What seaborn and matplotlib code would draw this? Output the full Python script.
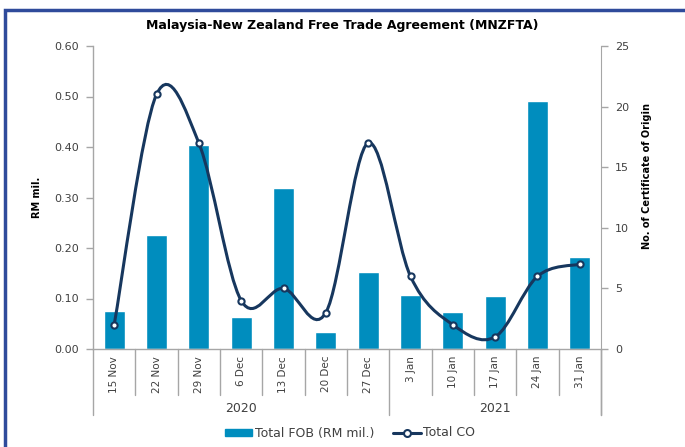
import matplotlib
matplotlib.use("Agg")
import matplotlib.pyplot as plt
import seaborn as sns
import pandas as pd
from matplotlib.path import Path
from matplotlib.patches import PathPatch, Rectangle
from matplotlib.lines import Line2D

# weekly data
weeks = ["15 Nov", "22 Nov", "29 Nov", "6 Dec", "13 Dec", "20 Dec", "27 Dec",
         "3 Jan", "10 Jan", "17 Jan", "24 Jan", "31 Jan"]
years = ["2020"] * 7 + ["2021"] * 5
fob_rm_mil = [0.075, 0.226, 0.404, 0.064, 0.319, 0.034, 0.153,
              0.107, 0.073, 0.104, 0.491, 0.183]
total_co = [2, 21, 17, 4, 5, 3, 17, 6, 2, 1, 6, 7]

BAR_COLOR = "#008DBE"
LINE_COLOR = "#17375E"
GRID_GRAY = "#A6A6A6"
TEXT_COLOR = "#404040"

sns.set_style("white")
plt.rcParams["font.family"] = ["DejaVu Sans"]

df = pd.DataFrame({"week": weeks, "year": years, "fob": fob_rm_mil, "co": total_co})

fig = plt.figure(figsize=(6.85, 4.47), dpi=100)
ax = fig.add_axes([93 / 685, 98 / 447, 508 / 685, 303 / 447])

sns.barplot(data=df, x="week", y="fob", order=weeks, color=BAR_COLOR,
            width=0.5, saturation=1, ax=ax)
ax.set_xlim(-0.5, len(weeks) - 0.5)
ax.set_ylim(0, 0.6)
ax.set_yticks([i / 10 for i in range(7)])
ax.set_yticklabels([f"{i / 10:.2f}" for i in range(7)])
ax.set_xlabel("")
ax.set_ylabel("RM mil.", fontsize=7, fontweight="bold", color="black")
ax.yaxis.set_label_coords(-0.1, 0.5)

for s in ["top", "right"]:
    ax.spines[s].set_visible(False)
for s in ["left", "bottom"]:
    ax.spines[s].set_color(GRID_GRAY)
    ax.spines[s].set_linewidth(1.0)

ax.tick_params(axis="y", direction="out", length=5, width=1, color=GRID_GRAY,
               labelsize=8, labelcolor=TEXT_COLOR, left=True, pad=5)
ax.tick_params(axis="x", length=0, labelsize=7.5, labelcolor=TEXT_COLOR, pad=5)
for lbl in ax.get_xticklabels():
    lbl.set_rotation(90)
    lbl.set_va("top")

# category separators and year groups under the axis
trans = ax.get_xaxis_transform()
n = len(weeks)
group_edges = [-0.5]
for i in range(1, n):
    if years[i] != years[i - 1]:
        group_edges.append(i - 0.5)
group_edges.append(n - 0.5)
for i in range(n + 1):
    x = i - 0.5
    depth = -0.218 if x in group_edges else -0.152
    ax.plot([x, x], [0, depth], transform=trans, color=GRID_GRAY, lw=1, clip_on=False)
for a, b in zip(group_edges[:-1], group_edges[1:]):
    ax.text((a + b) / 2, -0.198, years[int(a + 0.5)], transform=trans,
            ha="center", va="center", fontsize=9, color=TEXT_COLOR)

# secondary axis: smoothed CO line (Bezier through the data points)
ax2 = ax.twinx()
ax2.set_ylim(0, 25)
ax2.set_yticks(range(0, 26, 5))
for s in ["top", "left", "bottom"]:
    ax2.spines[s].set_visible(False)
ax2.spines["right"].set_color(GRID_GRAY)
ax2.spines["right"].set_bounds(0, 25)
ax2.tick_params(axis="y", direction="out", length=5, width=1, color=GRID_GRAY,
                labelsize=8, labelcolor=TEXT_COLOR, right=True, pad=5)
ax2.set_ylabel("No. of Certificate of Origin", fontsize=7, fontweight="bold",
               color="black")
ax2.yaxis.set_label_coords(1.08, 0.57)
ax2.plot([n - 0.5, n - 0.5], [0, -0.218], transform=ax2.get_xaxis_transform(),
         color=GRID_GRAY, lw=1, clip_on=False)

pts = list(zip(range(n), total_co))
verts = [pts[0]]
codes = [Path.MOVETO]
for i in range(n - 1):
    p0 = pts[max(i - 1, 0)]
    p1 = pts[i]
    p2 = pts[i + 1]
    p3 = pts[min(i + 2, n - 1)]
    c1 = (p1[0] + (p2[0] - p0[0]) / 6, p1[1] + (p2[1] - p0[1]) / 6)
    c2 = (p2[0] - (p3[0] - p1[0]) / 6, p2[1] - (p3[1] - p1[1]) / 6)
    verts += [c1, c2, p2]
    codes += [Path.CURVE4] * 3
ax2.add_patch(PathPatch(Path(verts, codes), facecolor="none", edgecolor=LINE_COLOR,
                        lw=2.2, capstyle="round", zorder=3))
sns.scatterplot(x=list(range(n)), y=total_co, ax=ax2, s=20, color="white",
                edgecolor=LINE_COLOR, linewidth=1.5, zorder=4, legend=False)
ax2.set_xlim(-0.5, n - 0.5)

fig.text(342 / 685, 1 - 25 / 447, "Malaysia-New Zealand Free Trade Agreement (MNZFTA)",
         ha="center", va="center", fontsize=9, fontweight="bold", color="black")

handles = [
    Rectangle((0, 0), 1, 1, color=BAR_COLOR),
    Line2D([], [], color=LINE_COLOR, lw=2.2, marker="o", markersize=5,
           markerfacecolor="white", markeredgecolor=LINE_COLOR, markeredgewidth=1.5),
]
fig.legend(handles, ["Total FOB (RM mil.)", "Total CO"], loc="center",
           bbox_to_anchor=(350 / 685, 1 - 433 / 447), ncol=2, frameon=False,
           fontsize=9, handlelength=2.2, handleheight=0.5, handletextpad=0.2,
           columnspacing=1.5, labelcolor=TEXT_COLOR)

# frame around the chart area (bottom and right run off the image)
fig.patches.append(Rectangle((5 / 685, -0.1), 1.2, 1.1 - 10 / 447,
                             transform=fig.transFigure, fill=False,
                             edgecolor="#2F4B9B", lw=2.5, zorder=0))

fig.savefig("out.png", dpi=100)
